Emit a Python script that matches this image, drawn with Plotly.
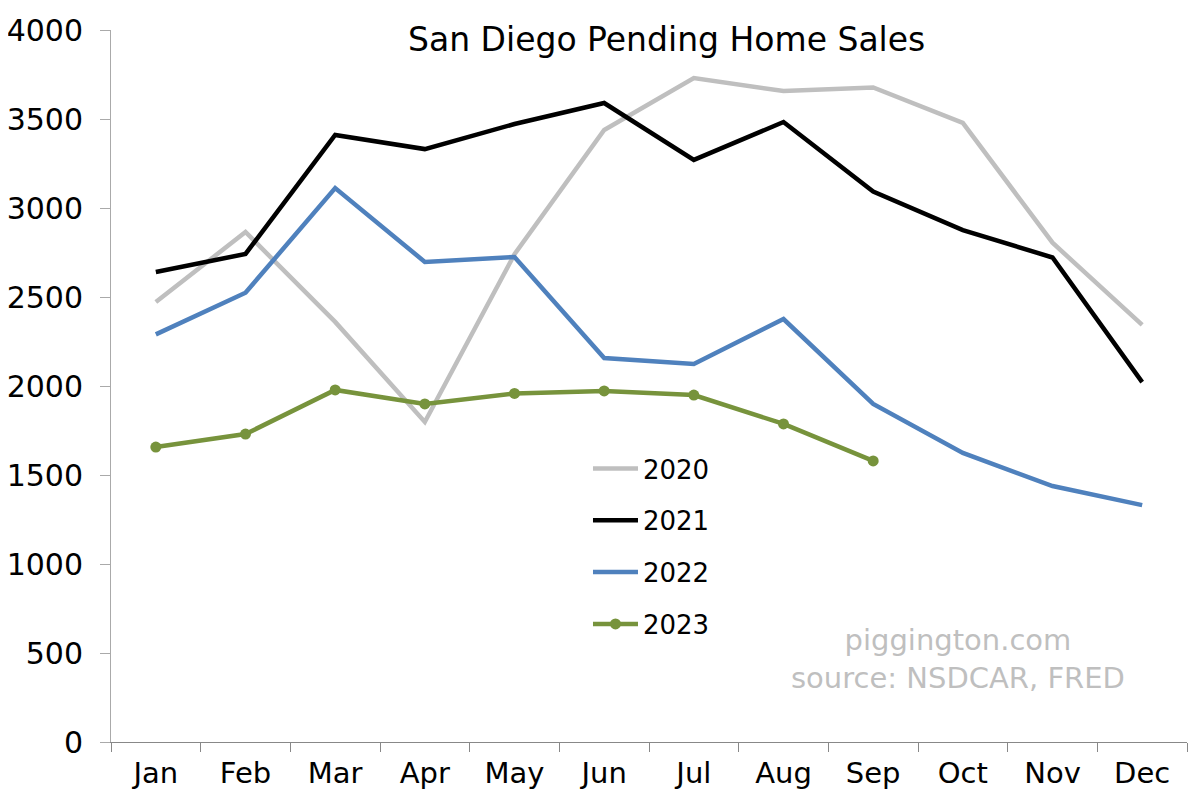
import plotly.graph_objects as go

months = ["Jan", "Feb", "Mar", "Apr", "May", "Jun", "Jul", "Aug", "Sep", "Oct", "Nov", "Dec"]
sales_2020 = [2472, 2865, 2360, 1798, 2740, 3438, 3730, 3657, 3677, 3478, 2805, 2343]
sales_2021 = [2640, 2742, 3410, 3331, 3472, 3590, 3270, 3483, 3092, 2876, 2722, 2022]
sales_2022 = [2290, 2524, 3112, 2697, 2725, 2157, 2124, 2376, 1899, 1624, 1438, 1331]
sales_2023 = [1657, 1730, 1978, 1899, 1958, 1972, 1949, 1787, 1579]
y_ticks = [0, 500, 1000, 1500, 2000, 2500, 3000, 3500, 4000]

FONT = "DejaVu Sans, sans-serif"

fig = go.Figure()
fig.add_trace(go.Scatter(x=months, y=sales_2020, name="2020", mode="lines",
                         line=dict(color="#bfbfbf", width=4.5), legendgroup="a"))
fig.add_trace(go.Scatter(x=months, y=sales_2021, name="2021", mode="lines",
                         line=dict(color="#000000", width=4.5), legendgroup="b"))
fig.add_trace(go.Scatter(x=months, y=sales_2022, name="2022", mode="lines",
                         line=dict(color="#4f81bd", width=4.5), legendgroup="c"))
fig.add_trace(go.Scatter(x=months[:len(sales_2023)], y=sales_2023, name="2023", mode="lines+markers",
                         line=dict(color="#77933c", width=4.5),
                         marker=dict(color="#77933c", size=11), legendgroup="d"))

# page body has an 8px margin, so the figure is sized/offset to compensate
fig.update_layout(
    width=1184, height=785,
    margin=dict(l=103, r=5, t=22, b=51, autoexpand=False),
    plot_bgcolor="white", paper_bgcolor="white",
    font=dict(family=FONT, size=28, color="black"),
    showlegend=True,
    legend=dict(x=0.4433, y=0.417, xanchor="left", yanchor="top",
                bgcolor="rgba(0,0,0,0)", traceorder="grouped", tracegroupgap=15,
                itemwidth=45,
                font=dict(size=26, family=FONT)),
    xaxis=dict(type="category", categoryorder="array", categoryarray=months,
               range=[-0.5, 11.5], showgrid=False, showline=True, linecolor="#888888",
               linewidth=1, ticks="outside", tickson="boundaries", ticklen=9,
               tickcolor="#888888", tickfont=dict(family=FONT, size=29),
               ticklabelstandoff=5, zeroline=False, automargin=False),
    yaxis=dict(range=[0, 4000], tickvals=y_ticks, showgrid=False, showline=True,
               linecolor="#aaaaaa", linewidth=1, ticks="outside", ticklen=10,
               tickcolor="#aaaaaa", ticklabelstandoff=11, zeroline=False,
               tickfont=dict(family=FONT, size=30), automargin=False),
    annotations=[
        dict(text="San Diego Pending Home Sales", xref="paper", yref="paper",
             x=0.5158, y=1.0, xanchor="center", yanchor="middle", yshift=-9, showarrow=False,
             font=dict(family=FONT, size=33, color="black")),
        dict(text="piggington.com<br>source: NSDCAR, FRED", xref="paper", yref="paper",
             x=0.787, y=0.1166, xanchor="center", yanchor="middle", showarrow=False,
             align="center",
             font=dict(family=FONT, size=29, color="#bfbfbf")),
    ],
)

fig.write_html("out.html")
